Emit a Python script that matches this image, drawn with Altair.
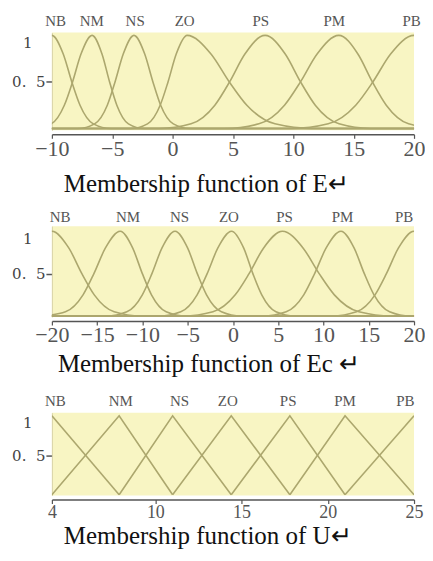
import altair as alt
import pandas as pd

NAMES = ["NB", "NM", "NS", "ZO", "PS", "PM", "PB"]

# membership levels shared by the sampled points of every bell curve
MU = [0, 0.05, 0.25, 0.5, 0.8, 1, 0.8, 0.5, 0.25, 0.05, 0]

# ---- E : x positions of each curve at the MU levels
E_NB = [-14.9, -13.43, -12.33, -11.65, -10.94, -10, -9.06, -8.35, -7.67, -6.57, -5.1]
E_NM = [-11.5, -10.05, -8.97, -8.29, -7.59, -6.67, -5.85, -5.22, -4.62, -3.66, -2.36]
E_NS = [-7.86, -6.46, -5.41, -4.77, -4.09, -3.2, -2.31, -1.63, -0.99, 0.06, 1.46]
E_ZO = [-3.49, -2.08, -1.03, -0.38, 0.3, 1.2, 3.18, 4.7, 6.15, 8.48, 11.6]
E_PS = [-1.09, 1.53, 3.5, 4.72, 5.99, 7.66, 9.33, 10.6, 11.82, 13.79, 16.41]
E_PM = [4.32, 7.15, 9.27, 10.59, 11.97, 13.77, 15.35, 16.55, 17.7, 19.55, 22.03]
E_PB = [9.85, 12.89, 15.17, 16.59, 18.06, 20, 21.94, 23.41, 24.83, 27.11, 30.15]
E_LABEL_X = [-9.7, -6.7, -3.1, 1.0, 7.3, 13.4, 19.8]
E_TICKS = [-10, -5, 0, 5, 10, 15, 20]

# ---- Ec
EC_NB = [-29.84, -26.88, -24.68, -23.31, -21.88, -20, -18.12, -16.69, -15.32, -13.12, -10.16]
EC_NM = [-21.1, -18.5, -16.56, -15.36, -14.1, -12.45, -11.07, -10.01, -9.0, -7.38, -5.2]
EC_NS = [-14.0, -11.72, -10.01, -8.95, -7.85, -6.4, -5.0, -3.94, -2.92, -1.28, 0.92]
EC_ZO = [-8.17, -5.76, -3.96, -2.85, -1.68, -0.15, 1.19, 2.2, 3.18, 4.75, 6.85]
EC_PS = [-5.5, -2.21, 0.25, 1.78, 3.37, 5.46, 7.76, 9.52, 11.2, 13.91, 17.54]
EC_PM = [3.28, 5.88, 7.82, 9.02, 10.28, 11.93, 13.39, 14.51, 15.58, 17.3, 19.6]
EC_PB = [10.93, 13.65, 15.69, 16.95, 18.27, 20, 21.73, 23.05, 24.31, 26.35, 29.07]
EC_LABEL_X = [-19.1, -11.6, -5.9, -0.45, 5.7, 12.1, 18.9]
EC_TICKS = [-20, -15, -10, -5, 0, 5, 10, 15, 20]

# ---- U : triangular functions, peaks
U_PEAKS = [4, 7.9, 11.0, 14.4, 17.8, 21.0, 25]
U_LABEL_X = [4.2, 8.0, 11.4, 14.2, 17.7, 21.0, 24.5]
U_TICKS = [4, 10, 15, 20, 25]

SERIF = "Liberation Serif"
WIDE_SERIF = "DejaVu Serif"
LINE = "#aca76e"
YELLOW = "#f8f5c3"


def bell_rows(curves, xdom):
    rows = []
    for name, xs in zip(NAMES, curves):
        pts = list(zip(xs, MU))
        # the tails run on along the bottom of the panel
        if xs[0] > xdom[0]:
            pts.insert(0, (xdom[0] - 1, 0))
        if xs[-1] < xdom[1]:
            pts.append((xdom[1] + 1, 0))
        for k, (xv, mv) in enumerate(pts):
            rows.append({"mf": name, "k": k, "x": xv, "mu": mv})
    return pd.DataFrame(rows)


def tri_rows(peaks):
    rows = []
    for i, name in enumerate(NAMES):
        pts = []
        if i > 0:
            pts.append((peaks[i - 1], 0))
        pts.append((peaks[i], 1))
        if i < len(peaks) - 1:
            pts.append((peaks[i + 1], 0))
        for k, (xv, mv) in enumerate(pts):
            rows.append({"mf": name, "k": k, "x": xv, "mu": mv})
    return pd.DataFrame(rows)


def panel(df, label_x, ticks, xdom, ydom, height, label_dy, tick_font,
          title, title_dx, title_off, interp):
    xenc = alt.X(
        "x:Q",
        title=None,
        scale=alt.Scale(domain=xdom, nice=False, zero=False),
        axis=alt.Axis(
            values=ticks, format="d", grid=False, offset=4,
            domainColor="#555555", domainWidth=1.5,
            tickColor="#555555", tickSize=4, tickWidth=1.2,
            labelFont=SERIF, labelFontSize=tick_font, labelColor="#555555",
            labelFlush=False, labelPadding=0,
        ),
    )
    yenc = alt.Y(
        "mu:Q",
        title=None,
        scale=alt.Scale(domain=ydom, nice=False, zero=False),
        axis=alt.Axis(
            values=[0.5, 1], grid=False,
            labelExpr="datum.value == 1 ? '1' : '0.\u00a0\u00a05'",
            domainColor="#d8d4a8", domainWidth=1,
            tickColor="#555555", tickSize=6, tickWidth=1.5,
            tickOpacity={"condition": {"test": "datum.value == 1", "value": 0}, "value": 1},
            labelPadding={"condition": {"test": "datum.value == 1", "value": 14}, "value": 1},
            labelBaseline={"condition": {"test": "datum.value == 1", "value": "top"}, "value": "middle"},
            labelFont=WIDE_SERIF, labelFontSize=15, labelColor="#444444",
            labelFlush=False,
        ),
    )
    lines = alt.Chart(df).mark_line(
        clip=True, interpolate=interp, color=LINE, strokeWidth=1.6
    ).encode(x=xenc, y=yenc, detail="mf:N", order="k:Q")

    lab = pd.DataFrame({"name": NAMES, "x": label_x})
    labels = alt.Chart(lab).mark_text(
        font=SERIF, fontSize=15, color="#555555", baseline="middle", align="center"
    ).encode(x=alt.X("x:Q", title=None), y=alt.value(label_dy), text="name:N")

    return alt.layer(lines, labels).properties(
        width=363,
        height=height,
        title=alt.TitleParams(
            text=title, orient="bottom", anchor="start", frame="group",
            dx=title_dx, offset=title_off, baseline="alphabetic",
            font=SERIF, fontSize=25, fontWeight="normal", color="#111111",
        ),
    )


p1 = panel(bell_rows([E_NB, E_NM, E_NS, E_ZO, E_PS, E_PM, E_PB], [-10, 20]),
           E_LABEL_X, E_TICKS, [-10, 20], [-0.02, 1.03], 98, -12, 22,
           "Membership function of E\u21b5", 12, 33, "monotone")
p2 = panel(bell_rows([EC_NB, EC_NM, EC_NS, EC_ZO, EC_PS, EC_PM, EC_PB], [-20, 20]),
           EC_LABEL_X, EC_TICKS, [-20, 20], [-0.01, 1.06], 91, -9, 22,
           "Membership function of Ec \u21b5", 6, 26, "monotone")
p3 = panel(tri_rows(U_PEAKS),
           U_LABEL_X, U_TICKS, [4, 25], [-0.01, 1.04], 83, -12, 18,
           "Membership function of U\u21b5", 12, 23, "linear")

chart = alt.vconcat(p1, p2, p3, spacing=96, bounds="flush").properties(
    padding={"left": 3, "top": 5, "right": 0, "bottom": 0}
).configure_view(fill=YELLOW, stroke=None)

chart.save("out.html", embed_options={"renderer": "svg", "actions": False})
